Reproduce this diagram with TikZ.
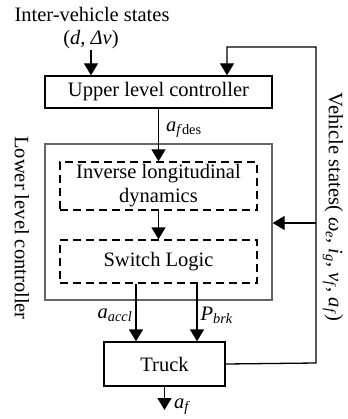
\documentclass[tikz,border=0pt]{standalone}
\usepackage{fontspec}
\setmainfont{Liberation Serif}
\usetikzlibrary{arrows.meta}

\tikzset{
  blk/.style={draw, line width=1.3pt, inner sep=0pt},
  dashblk/.style={draw, line width=1.3pt, dash pattern=on 8pt off 5pt, inner sep=0pt, align=center},
  sig/.style={line width=1.3pt, -{Triangle[width=14pt,length=12pt]}},
  lbl/.style={inner sep=1pt},
}

\begin{document}
\begin{tikzpicture}[x=1pt, y=-1pt, font=\fontsize{20.5}{24}\selectfont]
	\useasboundingbox (0,0) rectangle (347,419);
	\def\xR{316}
	
	% Blocks
	\node[blk, minimum width=227pt, minimum height=32pt] (upper) at (158.5,92) {Upper level controller};
	\node[draw=black!60, line width=1.3pt, minimum width=227pt, minimum height=156pt] (lower) at (158.5,222) {};
	\node[dashblk, minimum width=197pt, minimum height=48pt] (inv) at (158.5,186) {Inverse longitudinal\\dynamics};
	\node[dashblk, minimum width=197pt, minimum height=43pt] (switch) at (158.5,261.5) {Switch Logic};
	\node[blk, minimum width=121pt, minimum height=44pt] (truck) at (164.5,364) {Truck};
	
	% Inputs and labels
	\node[lbl] (ivs) at (92,14) {Inter-vehicle states};
	\node[lbl] (dv) at (91,40) {(\textit{d}, \textit{Δv})};
	\node[lbl, rotate=-90] (lowlbl) at (22,228) {Lower level controller};
	\node[lbl, rotate=-90] (vslbl) at (333,207) {Vehicle states( \textit{ω}\textsubscript{\textit{e}}, \textit{i}\textsubscript{\textit{g}}, \textit{v}\textsubscript{\textit{f}}, \textit{a}\textsubscript{\textit{f}})};
	
	% Feedback corners
	\coordinate (fbB) at (\xR,363);
	\coordinate (fbT) at (\xR,47);
	\coordinate (fbL) at (227,47);
	\coordinate (fbM) at (\xR,223);
	\coordinate (acc) at (136,0);
	\coordinate (brk) at (197,0);
	\coordinate (out) at (164.5,410);
	
	% Signals
	\draw[sig] (dv.south) -- (upper.north -| dv.south);
	\draw[sig] (upper.south -| inv.north) -- (inv.north) node[lbl, pos=0.4, anchor=west, xshift=6pt] (afdes) {\textit{a}\textsubscript{\textit{f}des}};
	\draw[sig] (inv.south) -- (switch.north);
	\draw[sig] (switch.south -| acc) -- (truck.north -| acc) node[lbl, pos=0.55, anchor=east, xshift=-2pt] (aacc) {\textit{a}\textsubscript{\textit{accl}}};
	\draw[sig] (switch.south -| brk) -- (truck.north -| brk) node[lbl, pos=0.55, anchor=west, xshift=2pt] (pbrk) {\textit{P}\textsubscript{\textit{brk}}};
	\draw[sig] (truck.south) -- (out) node[lbl, anchor=west, xshift=8pt, yshift=3pt] (af) {\textit{a}\textsubscript{\textit{f}}};
	\draw[sig] (truck.east) -- (fbB) -- (fbT) -- (fbL) -- (upper.north -| fbL);
	\draw[sig] (fbM) -- (lower.east |- fbM);
\end{tikzpicture}
\end{document}
